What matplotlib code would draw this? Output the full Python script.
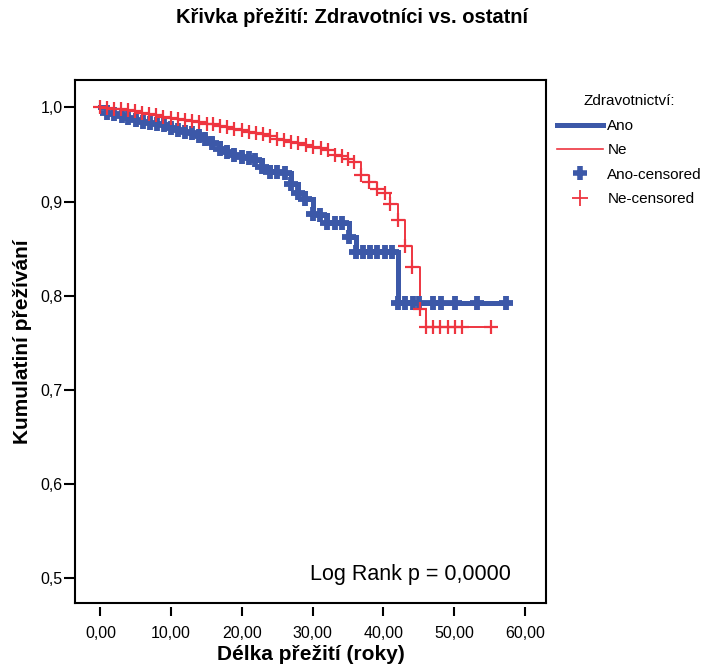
import numpy as np
import matplotlib
matplotlib.use("Agg")
from matplotlib import pyplot as plt
from matplotlib.lines import Line2D
from matplotlib.ticker import FuncFormatter

plt.rcParams['font.family'] = ['Liberation Sans', 'DejaVu Sans']

# Zdravotnictvi = Ano (time in years, survival)
ano_time = [0.0, 0.88, 1.91, 3.0, 3.93, 5.02, 6.01, 7.0, 7.99, 8.98, 9.97, 10.96,
            11.95, 12.94, 13.93, 14.85, 15.77, 16.9, 17.89, 18.95, 19.97, 21.0,
            21.92, 22.8, 23.97, 24.96, 26.03, 26.94, 27.93, 28.93, 30.01, 31.05,
            32.04, 33.1, 34.12, 35.11, 36.14, 37.13, 38.12, 39.11, 40.17, 41.23,
            42.01, 43.07, 44.16, 45.09, 47.07, 48.12, 50.14, 53.21, 57.31]
ano_surv = [1.0, 0.994, 0.993, 0.991, 0.989, 0.987, 0.985, 0.984, 0.983, 0.981, 0.978, 0.976,
            0.974, 0.973, 0.970, 0.967, 0.962, 0.956, 0.953, 0.950, 0.947, 0.946,
            0.944, 0.937, 0.932, 0.931, 0.930, 0.919, 0.909, 0.903, 0.887, 0.886,
            0.877, 0.877, 0.877, 0.863, 0.847, 0.847, 0.847, 0.847, 0.847, 0.847,
            0.792, 0.792, 0.792, 0.792, 0.792, 0.792, 0.792, 0.792, 0.792]

# Zdravotnictvi = Ne
ne_time = [0.0, 0.96, 1.91, 2.97, 3.93, 4.88, 5.87, 6.9, 7.89, 8.88, 9.94, 11.0,
           12.02, 13.01, 14.0, 15.02, 15.98, 16.97, 17.89, 18.95, 19.99, 20.98,
           21.99, 22.98, 23.97, 24.96, 25.98, 26.99, 27.98, 29.0, 30.06, 31.12,
           32.22, 33.17, 34.12, 35.05, 35.86, 36.8, 38.02, 39.15, 40.24, 40.95,
           42.04, 43.0, 44.1, 45.12, 46.04, 47.03, 48.02, 49.15, 50.14, 51.13, 55.19]
ne_surv = [1.0, 0.999, 0.998, 0.998, 0.997, 0.996, 0.994, 0.993, 0.992, 0.990, 0.989, 0.988,
           0.987, 0.986, 0.985, 0.983, 0.982, 0.980, 0.979, 0.977, 0.976, 0.974,
           0.973, 0.972, 0.970, 0.967, 0.965, 0.963, 0.962, 0.960, 0.958, 0.957,
           0.955, 0.950, 0.948, 0.945, 0.942, 0.928, 0.921, 0.913, 0.909, 0.898,
           0.880, 0.853, 0.831, 0.786, 0.767, 0.767, 0.767, 0.767, 0.767, 0.767, 0.767]

blue = '#3c58a8'
red = '#ee3540'

fig = plt.figure(figsize=(7.04, 6.66), dpi=100)
ax = fig.add_axes([0.1065, 0.0946, 0.669, 0.785])

ax.plot(ano_time, ano_surv, drawstyle='steps-post', color=blue, lw=3.6, solid_joinstyle='miter')
ax.plot(ne_time, ne_surv, drawstyle='steps-post', color=red, lw=1.4)
ax.plot(ano_time[1:], ano_surv[1:], ls='none', marker='+', ms=10.5, mew=4.2, color=blue)
ax.plot(ne_time, ne_surv, ls='none', marker='+', ms=10, mew=1.6, color=red)

ax.set_xlim(-3.6, 63.0)
ax.set_ylim(0.4738, 1.029)
ax.set_xticks(np.arange(0, 61, 10))
ax.set_yticks([0.5, 0.6, 0.7, 0.8, 0.9, 1.0])
ax.xaxis.set_major_formatter(FuncFormatter(lambda v, p: f"{v:.2f}".replace('.', ',')))
ax.yaxis.set_major_formatter(FuncFormatter(lambda v, p: f"{v:.1f}".replace('.', ',')))
ax.tick_params(axis='both', labelsize=11.5, width=1.5, direction='out')
ax.tick_params(axis='x', length=6.5, pad=7)
ax.tick_params(axis='y', length=8, pad=1)

for s in ax.spines.values():
    s.set_linewidth(1.5)
ax.spines['bottom'].set_position(('outward', 3))
ax.spines['bottom'].set_visible(False)
ax.plot([0, 1], [0, 0], transform=ax.transAxes, color='k', lw=1.5, clip_on=False)

ax.set_xlabel('Délka přežití (roky)', fontsize=15, fontweight='bold', labelpad=3)
ax.set_ylabel('Kumulatiní přežívání', fontsize=15, fontweight='bold', labelpad=6)
fig.suptitle('Křivka přežití: Zdravotníci vs. ostatní', fontsize=14.5, fontweight='bold', y=0.988)

ax.text(0.926, 0.054, 'Log Rank p = 0,0000', transform=ax.transAxes, ha='right', va='center', fontsize=15.5)

handles = [Line2D([], [], color=blue, lw=3.6),
           Line2D([], [], color=red, lw=1.2),
           Line2D([], [], ls='none', marker='+', ms=10, mew=4, color=blue),
           Line2D([], [], ls='none', marker='+', ms=12, mew=1.3, color=red)]
labels = ['Ano', 'Ne', 'Ano-censored', 'Ne-censored']
leg = fig.legend(handles, labels, title='Zdravotnictví:', loc='upper left',
                 bbox_to_anchor=(0.791, 0.859), frameon=False, fontsize=11,
                 title_fontsize=11, handlelength=3.0, handletextpad=0.3,
                 labelspacing=0.68, borderaxespad=0, borderpad=0)
leg._legend_box.sep = 8

fig.savefig('out.png', dpi=100)
